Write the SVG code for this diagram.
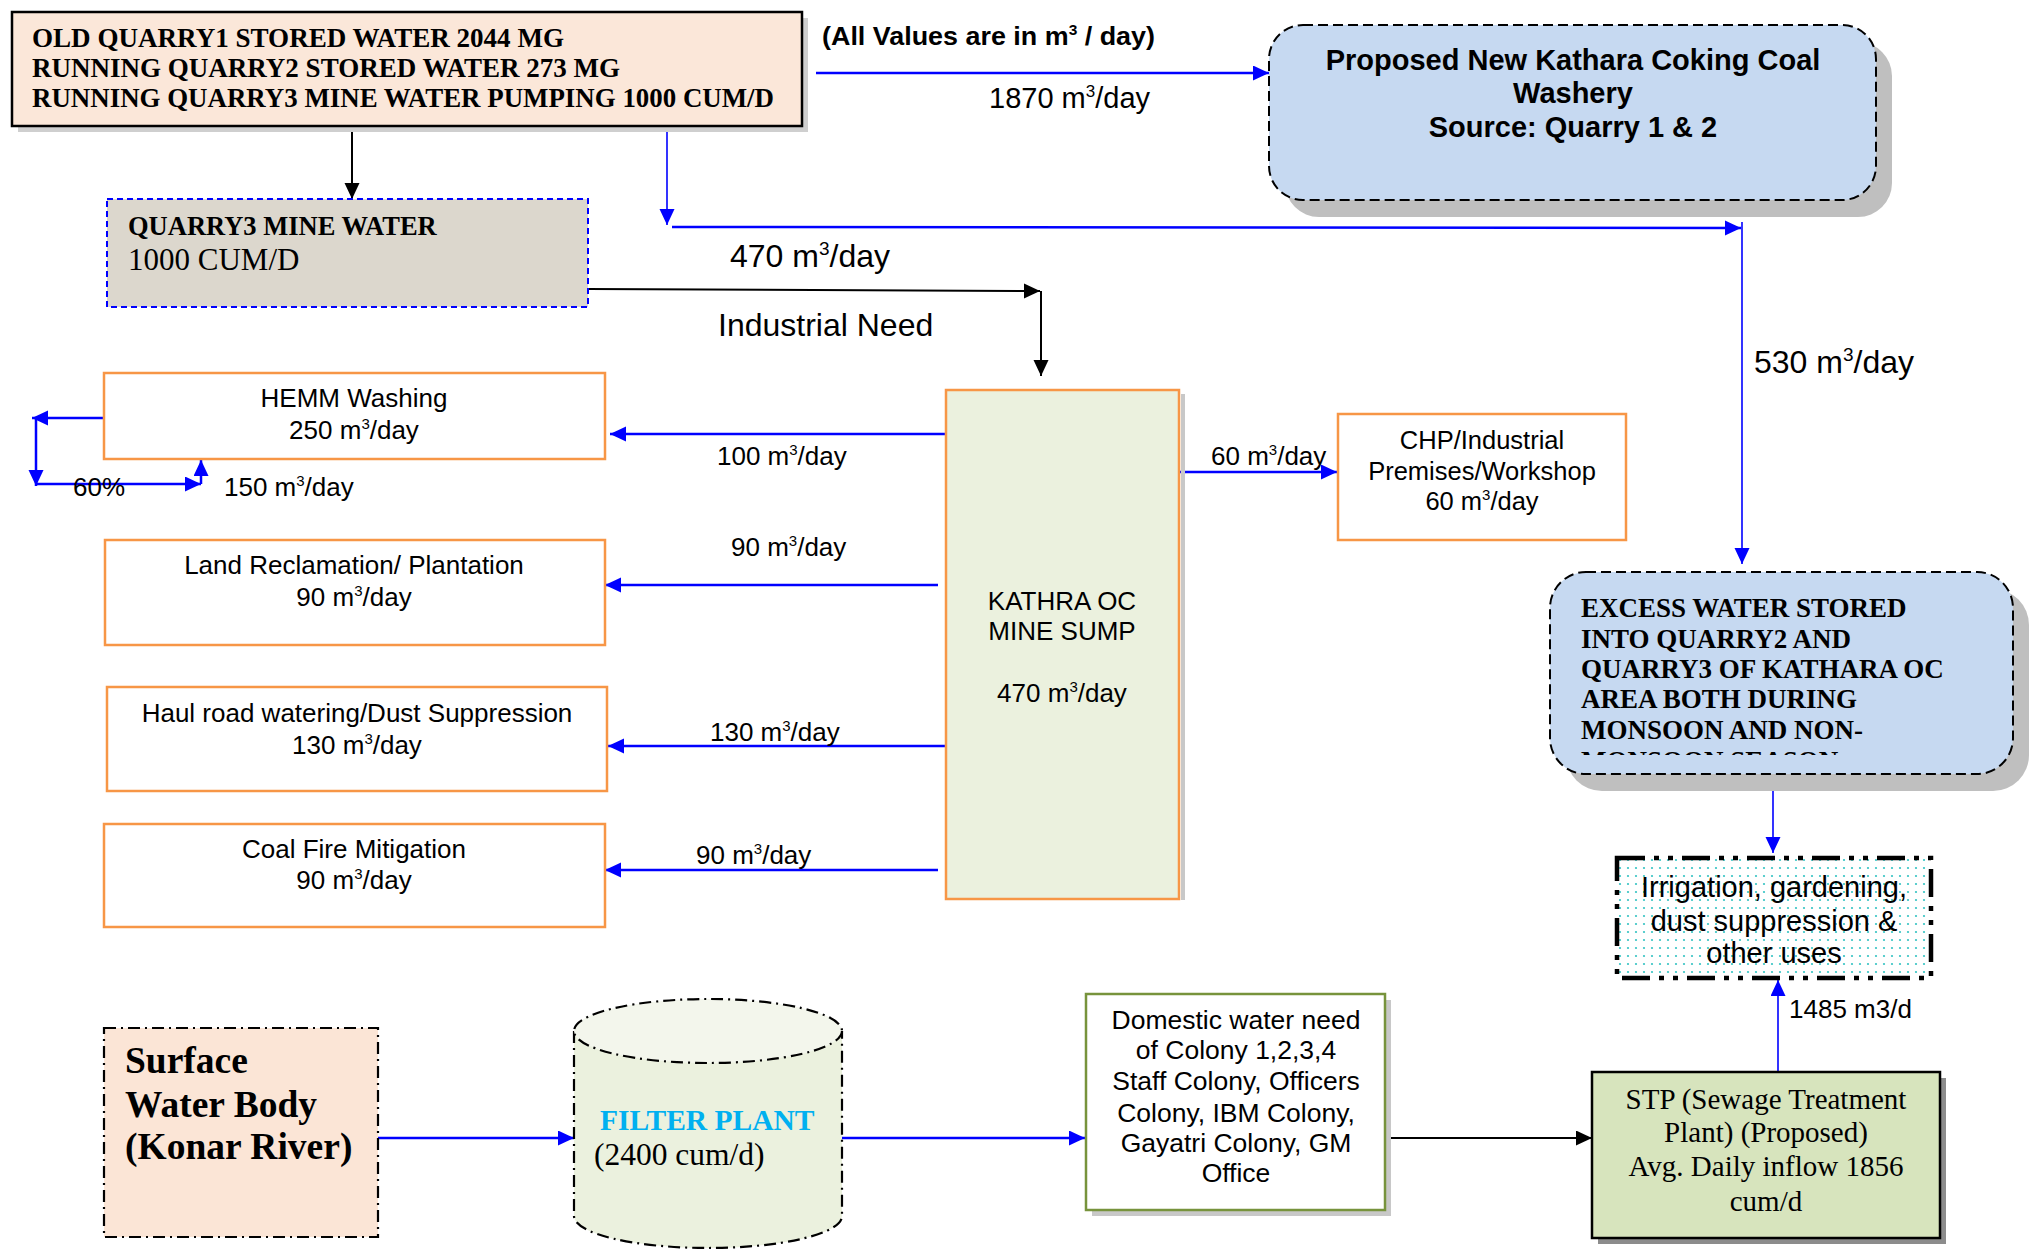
<svg xmlns="http://www.w3.org/2000/svg" width="2033" height="1255" viewBox="0 0 2033 1255">
<defs>
<style>
.sans{font-family:"Liberation Sans",Arial,sans-serif;fill:#000}
.serif{font-family:"Liberation Serif","Times New Roman",serif;fill:#000}
.b{font-weight:bold}
.c{text-anchor:middle}
.lbl{font-size:26px}
.box-o{fill:#fff;stroke:#f79646;stroke-width:2.5}
.blue{stroke:#0000ff;stroke-width:2.5;fill:none;marker-end:url(#ab)}
.blue-thin{stroke:#0000ff;stroke-width:1.6;fill:none;marker-end:url(#ab)}
.blk{stroke:#000;stroke-width:2;fill:none;marker-end:url(#ak)}
.shadow{fill:#bfbfbf}
.dashdot{stroke:#000;stroke-width:2.2;stroke-dasharray:12 5 2 5}
</style>
<marker id="ab" markerUnits="userSpaceOnUse" markerWidth="17" markerHeight="17" refX="16" refY="7.5" orient="auto">
<path d="M0,0 L16,7.5 L0,15 z" fill="#0000ff"/>
</marker>
<marker id="ak" markerUnits="userSpaceOnUse" markerWidth="17" markerHeight="17" refX="16" refY="7.5" orient="auto">
<path d="M0,0 L16,7.5 L0,15 z" fill="#000"/>
</marker>
<pattern id="dots" width="8" height="8" patternUnits="userSpaceOnUse">
<rect width="8" height="8" fill="#fff"/>
<circle cx="4" cy="4" r="1.1" fill="#33c3c3"/>
</pattern>
<clipPath id="exclip"><rect x="1550" y="572" width="463" height="183"/></clipPath>
</defs>

<g id="connectors">
<line class="blk" x1="352" y1="126" x2="352" y2="199"/>
<line class="blue-thin" x1="667" y1="126" x2="667" y2="225"/>
<line class="blue" x1="672" y1="227" x2="1741" y2="228"/>
<line class="blue-thin" x1="1742" y1="222" x2="1742" y2="564"/>
<line class="blue" x1="816" y1="73" x2="1269" y2="73"/>
<line class="blk" x1="588" y1="289" x2="1040" y2="291"/>
<line class="blk" x1="1041" y1="291" x2="1041" y2="376"/>
<line class="blue" x1="946" y1="434" x2="610" y2="434"/>
<line class="blue" x1="938" y1="585" x2="605" y2="585"/>
<line class="blue" x1="946" y1="746" x2="608" y2="746"/>
<line class="blue" x1="938" y1="870" x2="605" y2="870"/>
<line class="blue" x1="104" y1="418" x2="32" y2="418"/>
<line class="blue" x1="36" y1="418" x2="36" y2="486"/>
<line class="blue" x1="36" y1="484" x2="201" y2="484"/>
<line class="blue" x1="201" y1="484" x2="201" y2="460"/>
<line class="blue" x1="1179" y1="472" x2="1337" y2="472"/>
<line class="blue-thin" x1="1773" y1="774" x2="1773" y2="853"/>
<line class="blue" x1="378" y1="1138" x2="574" y2="1138"/>
<line class="blue" x1="842" y1="1138" x2="1085" y2="1138"/>
<line class="blk" x1="1385" y1="1138" x2="1592" y2="1138"/>
<line class="blue-thin" x1="1778" y1="1072" x2="1778" y2="980"/>
</g>

<g id="labels">
<text class="sans b" x="822" y="45" font-size="26" textLength="333" lengthAdjust="spacingAndGlyphs">(All Values are in m<tspan font-size="15" dy="-10">3</tspan><tspan dy="10"> / day)</tspan></text>
<text class="sans" x="989" y="108" font-size="29">1870 m<tspan font-size="17" dy="-11">3</tspan><tspan dy="11">/day</tspan></text>
<text class="sans" x="730" y="267" font-size="32">470 m<tspan font-size="19" dy="-12">3</tspan><tspan dy="12">/day</tspan></text>
<text class="sans" x="718" y="336" font-size="32">Industrial Need</text>
<text class="sans" x="1754" y="373" font-size="32">530 m<tspan font-size="19" dy="-12">3</tspan><tspan dy="12">/day</tspan></text>
<text class="sans lbl" x="717" y="465">100 m<tspan font-size="15" dy="-10">3</tspan><tspan dy="10">/day</tspan></text>
<text class="sans lbl" x="731" y="556">90 m<tspan font-size="15" dy="-10">3</tspan><tspan dy="10">/day</tspan></text>
<text class="sans lbl" x="710" y="741">130 m<tspan font-size="15" dy="-10">3</tspan><tspan dy="10">/day</tspan></text>
<text class="sans lbl" x="696" y="864">90 m<tspan font-size="15" dy="-10">3</tspan><tspan dy="10">/day</tspan></text>
<text class="sans lbl" x="1211" y="465">60 m<tspan font-size="15" dy="-10">3</tspan><tspan dy="10">/day</tspan></text>
<text class="sans lbl" x="73" y="496">60%</text>
<text class="sans lbl" x="224" y="496">150 m<tspan font-size="15" dy="-10">3</tspan><tspan dy="10">/day</tspan></text>
<text class="sans lbl" x="1789" y="1018">1485 m3/d</text>
</g>

<g id="node-quarries">
<rect x="18" y="18" width="790" height="114" fill="#cfcfcf"/>
<rect x="12" y="12" width="790" height="114" fill="#fbe7d9" stroke="#000" stroke-width="2.5"/>
<text class="serif b" x="32" y="47" font-size="26.5" textLength="532" lengthAdjust="spacingAndGlyphs">OLD QUARRY1 STORED WATER 2044 MG</text>
<text class="serif b" x="32" y="77" font-size="26.5" textLength="588" lengthAdjust="spacingAndGlyphs">RUNNING QUARRY2 STORED WATER 273 MG</text>
<text class="serif b" x="32" y="107" font-size="26.5" textLength="742" lengthAdjust="spacingAndGlyphs">RUNNING QUARRY3 MINE WATER PUMPING 1000 CUM/D</text>
</g>

<g id="node-quarry3">
<rect x="107" y="199" width="481" height="108" fill="#dcd7cd" stroke="#0000ff" stroke-width="2" stroke-dasharray="6 4"/>
<text class="serif b" x="128" y="235" font-size="26.5">QUARRY3 MINE WATER</text>
<text class="serif" x="128" y="270" font-size="31">1000 CUM/D</text>
</g>

<g id="node-washery">
<rect x="1285" y="42" width="607" height="175" rx="34" class="shadow"/>
<rect x="1269" y="25" width="607" height="175" rx="34" fill="#c6d9f1" stroke="#000" stroke-width="2" stroke-dasharray="10 5"/>
<text class="sans b c" x="1573" y="70" font-size="29">Proposed New Kathara Coking Coal</text>
<text class="sans b c" x="1573" y="103" font-size="29">Washery</text>
<text class="sans b c" x="1573" y="137" font-size="29">Source: Quarry 1 &amp; 2</text>
</g>

<g id="node-hemm">
<rect class="box-o" x="104" y="373" width="501" height="86"/>
<text class="sans c lbl" x="354" y="407">HEMM Washing</text>
<text class="sans c lbl" x="354" y="439">250 m<tspan font-size="15" dy="-10">3</tspan><tspan dy="10">/day</tspan></text>
</g>

<g id="node-land">
<rect class="box-o" x="105" y="540" width="500" height="105"/>
<text class="sans c lbl" x="354" y="574">Land Reclamation/ Plantation</text>
<text class="sans c lbl" x="354" y="606">90 m<tspan font-size="15" dy="-10">3</tspan><tspan dy="10">/day</tspan></text>
</g>

<g id="node-haul">
<rect class="box-o" x="107" y="687" width="500" height="104"/>
<text class="sans c lbl" x="357" y="722">Haul road watering/Dust Suppression</text>
<text class="sans c lbl" x="357" y="754">130 m<tspan font-size="15" dy="-10">3</tspan><tspan dy="10">/day</tspan></text>
</g>

<g id="node-coalfire">
<rect class="box-o" x="104" y="824" width="501" height="103"/>
<text class="sans c lbl" x="354" y="858">Coal Fire Mitigation</text>
<text class="sans c lbl" x="354" y="889">90 m<tspan font-size="15" dy="-10">3</tspan><tspan dy="10">/day</tspan></text>
</g>

<g id="node-sump">
<rect x="1181" y="394" width="4" height="506" fill="#c8c8c8"/>
<rect x="946" y="390" width="233" height="509" fill="#ebf1de" stroke="#f79646" stroke-width="2.5"/>
<text class="sans c lbl" x="1062" y="610">KATHRA OC</text>
<text class="sans c lbl" x="1062" y="640">MINE SUMP</text>
<text class="sans c lbl" x="1062" y="702">470 m<tspan font-size="15" dy="-10">3</tspan><tspan dy="10">/day</tspan></text>
</g>

<g id="node-chp">
<rect class="box-o" x="1338" y="414" width="288" height="126"/>
<text class="sans c" x="1482" y="449" font-size="25.5">CHP/Industrial</text>
<text class="sans c" x="1482" y="480" font-size="25.5">Premises/Workshop</text>
<text class="sans c" x="1482" y="510" font-size="25.5">60 m<tspan font-size="15" dy="-10">3</tspan><tspan dy="10">/day</tspan></text>
</g>

<g id="node-excess">
<rect x="1566" y="589" width="463" height="202" rx="36" class="shadow"/>
<rect x="1550" y="572" width="463" height="202" rx="36" fill="#c6d9f1" stroke="#000" stroke-width="2" stroke-dasharray="10 5"/>
<g clip-path="url(#exclip)">
<text class="serif b" x="1581" y="617" font-size="27">EXCESS WATER STORED</text>
<text class="serif b" x="1581" y="648" font-size="27">INTO QUARRY2 AND</text>
<text class="serif b" x="1581" y="678" font-size="27">QUARRY3 OF KATHARA OC</text>
<text class="serif b" x="1581" y="708" font-size="27">AREA BOTH DURING</text>
<text class="serif b" x="1581" y="739" font-size="27">MONSOON AND NON-</text>
<text class="serif b" x="1581" y="770" font-size="27">MONSOON SEASON</text>
</g>
</g>

<g id="node-irrigation">
<rect x="1617" y="858" width="314" height="120" fill="url(#dots)" stroke="#000" stroke-width="4.5" stroke-dasharray="28 9 5 9 5 9"/>
<text class="sans c" x="1774" y="897" font-size="29">Irrigation, gardening,</text>
<text class="sans c" x="1774" y="931" font-size="29">dust suppression &amp;</text>
<text class="sans c" x="1774" y="963" font-size="29">other uses</text>
</g>

<g id="node-surface">
<rect x="104" y="1028" width="274" height="209" fill="#fbe5d6" class="dashdot"/>
<text class="serif b" x="125" y="1073" font-size="37.5">Surface</text>
<text class="serif b" x="125" y="1117" font-size="37.5">Water Body</text>
<text class="serif b" x="125" y="1159" font-size="37.5">(Konar River)</text>
</g>

<g id="node-filter">
<rect x="574" y="1031" width="268" height="185" fill="#ebf1de"/>
<ellipse cx="708" cy="1216" rx="134" ry="32" fill="#ebf1de"/>
<path d="M574,1031 L574,1216 A134,32 0 0 0 842,1216 L842,1031" fill="none" class="dashdot"/>
<ellipse cx="708" cy="1031" rx="134" ry="32" fill="#f3f6ec" class="dashdot"/>
<text class="serif b" x="600" y="1130" font-size="29.5" style="fill:#00b0f0">FILTER PLANT</text>
<text class="serif" x="594" y="1165" font-size="31.5">(2400 cum/d)</text>
</g>

<g id="node-domestic">
<rect x="1092" y="1000" width="299" height="216" fill="#c8c8c8"/>
<rect x="1086" y="994" width="299" height="216" fill="#fff" stroke="#77933c" stroke-width="2.5"/>
<text class="sans c" x="1236" y="1029" font-size="26.5">Domestic water need</text>
<text class="sans c" x="1236" y="1059" font-size="26.5">of Colony 1,2,3,4</text>
<text class="sans c" x="1236" y="1090" font-size="26.5">Staff Colony, Officers</text>
<text class="sans c" x="1236" y="1122" font-size="26.5">Colony, IBM Colony,</text>
<text class="sans c" x="1236" y="1152" font-size="26.5">Gayatri Colony, GM</text>
<text class="sans c" x="1236" y="1182" font-size="26.5">Office</text>
</g>

<g id="node-stp">
<rect x="1598" y="1078" width="348" height="166" fill="#8c8c8c"/>
<rect x="1592" y="1072" width="348" height="166" fill="#d7e4bd" stroke="#000" stroke-width="2.5"/>
<text class="serif c" x="1766" y="1109" font-size="29">STP (Sewage Treatment</text>
<text class="serif c" x="1766" y="1142" font-size="29">Plant) (Proposed)</text>
<text class="serif c" x="1766" y="1176" font-size="29">Avg. Daily inflow 1856</text>
<text class="serif c" x="1766" y="1211" font-size="29">cum/d</text>
</g>
</svg>
